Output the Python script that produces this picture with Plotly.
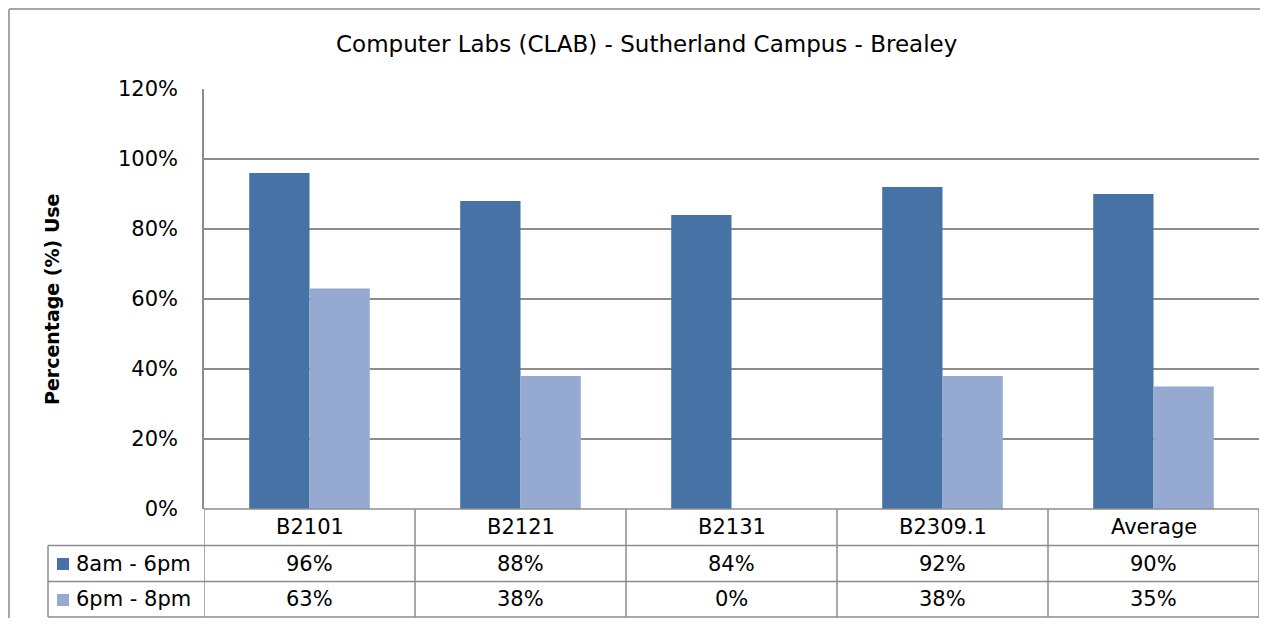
import plotly.graph_objects as go

categories = ["B2101", "B2121", "B2131", "B2309.1", "Average"]
series_names = ["8am - 6pm", "6pm - 8pm"]
day_use = [0.96, 0.88, 0.84, 0.92, 0.90]
evening_use = [0.63, 0.38, 0.00, 0.38, 0.35]
y_ticks = [0, 0.2, 0.4, 0.6, 0.8, 1.0, 1.2]

colors = ["#4672A6", "#95A9D1"]
grid = "#8C8C8C"
OFF = 8  # page body margin
W, H = 1268 - 2 * OFF, 626 - 2 * OFF
# target pixel coordinates (in screenshot space)
L, R, T, B = 204, 1259, 89, 509
FONT = "DejaVu Sans"

def px(x):
    return (x - L) / (R - L)

def py(y):
    return (B - y) / (B - T)

fig = go.Figure()
for name, vals, c in zip(series_names, [day_use, evening_use], colors):
    fig.add_trace(go.Bar(x=categories, y=vals, name=name, marker=dict(color=c, line=dict(width=0))))

shapes = []
annotations = []
line = dict(color=grid, width=1.5)
row_y = [509, 545.5, 581.5, 617]
n = len(categories)
# horizontal table lines
shapes.append(dict(type="line", xref="paper", yref="paper", x0=px(L), x1=px(R), y0=py(row_y[0]), y1=py(row_y[0]), line=line))
for yy in row_y[1:]:
    shapes.append(dict(type="line", xref="paper", yref="paper", x0=px(48), x1=px(R), y0=py(yy), y1=py(yy), line=line))
# vertical table lines
shapes.append(dict(type="line", xref="paper", yref="paper", x0=px(48), x1=px(48), y0=py(row_y[1]), y1=py(row_y[3]), line=line))
for k in range(n + 1):
    shapes.append(dict(type="line", xref="x", yref="paper", x0=k - 0.5, x1=k - 0.5, y0=py(row_y[0]), y1=py(row_y[3]), line=line))
# outer chart border (only left and top edges visible)
border = dict(color="#A6A6A6", width=2)
shapes.append(dict(type="line", xref="paper", yref="paper", x0=px(9), x1=px(1268), y0=py(9), y1=py(9), line=border, layer="below"))
shapes.append(dict(type="line", xref="paper", yref="paper", x0=px(9), x1=px(9), y0=py(9), y1=py(626), line=border, layer="below"))

tfont = dict(family=FONT, size=21, color="#000000")
for i, cat in enumerate(categories):
    annotations.append(dict(x=i, y=py((row_y[0] + row_y[1]) / 2), xref="x", yref="paper", text=cat,
                            showarrow=False, font=tfont, xanchor="center", yanchor="middle"))
for r, vals in enumerate([day_use, evening_use]):
    yc = py((row_y[r + 1] + row_y[r + 2]) / 2)
    for i, v in enumerate(vals):
        annotations.append(dict(x=i, y=yc, xref="x", yref="paper", text=f"{v:.0%}",
                                showarrow=False, font=tfont, xanchor="center", yanchor="middle"))
    shapes.append(dict(type="rect", xref="paper", yref="paper", x0=px(57), x1=px(69), y0=py(row_y[r+1] + 12.5), y1=py(row_y[r+1] + 24.5),
                       line=dict(width=0), fillcolor=colors[r]))
    annotations.append(dict(x=px(74), y=yc, xref="paper", yref="paper", text=series_names[r],
                            showarrow=False, font=tfont, xanchor="left", yanchor="middle"))

annotations.append(dict(x=px(646), y=py(44), xref="paper", yref="paper",
                        text="Computer Labs (CLAB) - Sutherland Campus - Brealey", showarrow=False,
                        font=dict(family=FONT, size=23, color="#000000"),
                        xanchor="center", yanchor="middle"))
annotations.append(dict(x=px(52), y=py(299), xref="paper", yref="paper", text="<b>Percentage (%) Use</b>",
                        showarrow=False, textangle=-90,
                        font=dict(family=FONT, size=19, color="#000000"),
                        xanchor="center", yanchor="middle"))

fig.update_layout(
    width=W, height=H,
    margin=dict(l=L - OFF, r=W - (R - OFF), t=T - OFF, b=H - (B - OFF), pad=0),
    paper_bgcolor="white", plot_bgcolor="white",
    barmode="group", bargap=1.5 / 3.5, bargroupgap=0,
    showlegend=False,
    shapes=shapes, annotations=annotations,
    xaxis=dict(range=[-0.5, n - 0.5], showticklabels=False, showgrid=False, showline=False, zeroline=False, ticks=""),
    yaxis=dict(range=[0, 1.2], tickvals=y_ticks, tickformat=".0%", showgrid=True, gridcolor=grid, gridwidth=1.5,
               showline=True, linecolor=grid, linewidth=1.5, zeroline=False, ticks="", ticklabelstandoff=20,
               tickfont=dict(family=FONT, size=21, color="#000000")),
)
fig.write_html("out.html")
